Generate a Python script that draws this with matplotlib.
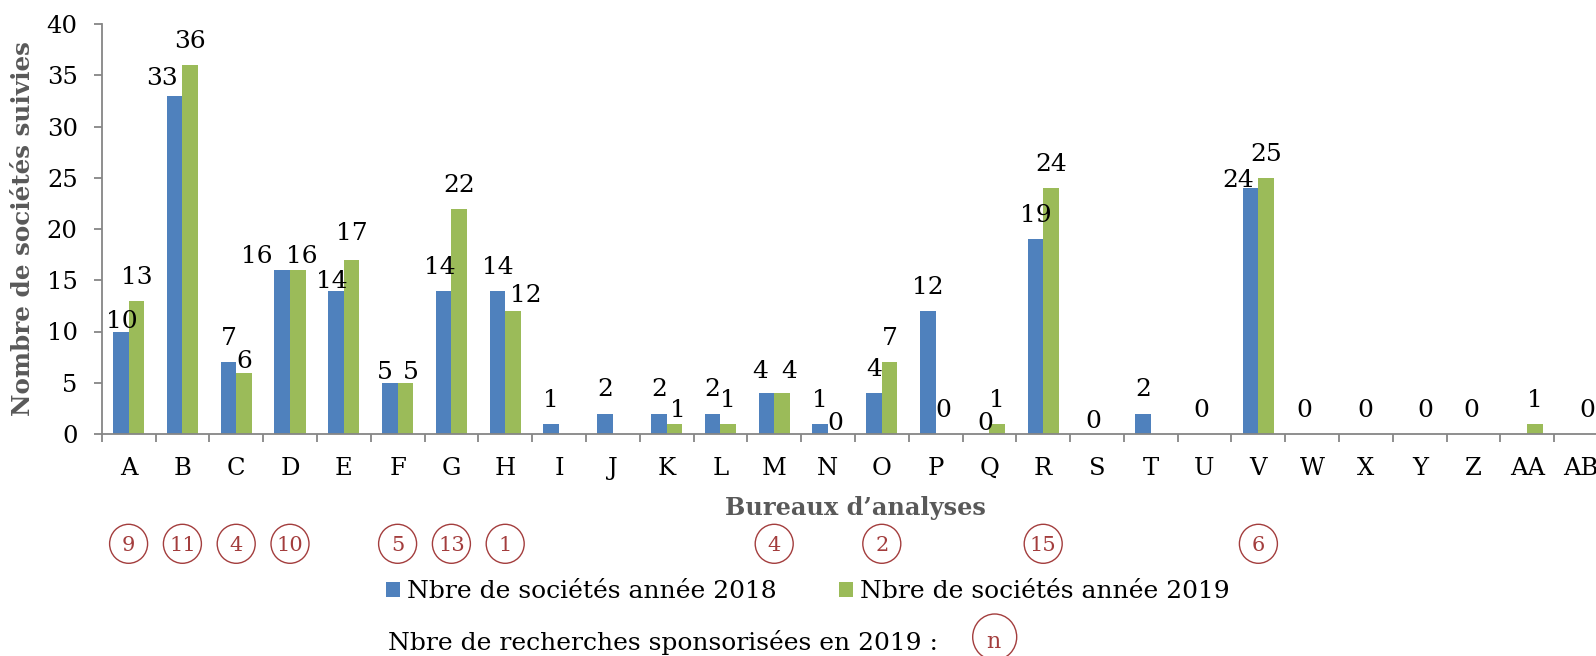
import numpy as np
import matplotlib.pyplot as plt
from matplotlib.patches import Ellipse
from matplotlib.transforms import blended_transform_factory

plt.rcParams['font.family'] = 'DejaVu Serif'

categories = ['A', 'B', 'C', 'D', 'E', 'F', 'G', 'H', 'I', 'J', 'K', 'L', 'M', 'N',
              'O', 'P', 'Q', 'R', 'S', 'T', 'U', 'V', 'W', 'X', 'Y', 'Z', 'AA', 'AB']
societes_2018 = [10, 33, 7, 16, 14, 5, 14, 14, 1, 2, 2, 2, 4, 1,
                 4, 12, 0, 19, 0, 2, 0, 24, 0, 0, 0, 0, None, 0]
societes_2019 = [13, 36, 6, 16, 17, 5, 22, 12, None, None, 1, 1, 4, 0,
                 7, 0, 1, 24, None, None, None, 25, None, None, None, None, 1, None]
sponsor_cats = ['A', 'B', 'C', 'D', 'F', 'G', 'H', 'M', 'O', 'R', 'V']
sponsor_counts = [9, 11, 4, 10, 5, 13, 1, 4, 2, 15, 6]

BLUE = '#4F81BD'
GREEN = '#9BBB59'
RED = '#A33D3D'
GRAY = '#868686'
TITLE_GRAY = '#595959'

# hand placed labels in the original (dx, gap above bar) in pixels
label_nudge = {
    ('A', 0): (1, 3), ('B', 0): (-13, 11), ('C', 1): (0, 5),
    ('D', 0): (-25, 7), ('D', 1): (4, 7), ('E', 0): (-4, 2), ('E', 1): (0, 20),
    ('F', 0): (-5, 4), ('F', 1): (5, 4), ('G', 0): (-4, 16),
    ('H', 1): (13, 9), ('K', 1): (4, 7), ('M', 0): (-6, 15), ('M', 1): (7, 15),
    ('N', 1): (0, 4), ('Q', 0): (4, 4), ('S', 0): (4, 6), ('U', 0): (4, 17),
    ('V', 0): (-12, 1), ('X', 0): (7, 17), ('Y', 0): (13, 17), ('Z', 0): (5, 17),
    ('AB', 0): (14, 17),
}

W, H = 1596, 656
fig = plt.figure(figsize=(W / 100, H / 100), dpi=100)
ax = fig.add_axes([101.7 / W, 1 - 434 / H, 1506.4 / W, 410 / H])

x = np.arange(len(categories))
bw = 0.289
v18 = np.array([np.nan if v is None else v for v in societes_2018], float)
v19 = np.array([np.nan if v is None else v for v in societes_2019], float)
b18 = ax.bar(x - bw / 2, v18, bw, color=BLUE, linewidth=0)
b19 = ax.bar(x + bw / 2, v19, bw, color=GREEN, linewidth=0)

for s, (vals, off) in enumerate([(societes_2018, -bw / 2), (societes_2019, bw / 2)]):
    for i, v in enumerate(vals):
        if v is None:
            continue
        dx, gap = label_nudge.get((categories[i], s), (0, 17))
        ax.annotate(str(v), (x[i] + off, v), xytext=(dx, gap), textcoords='offset pixels',
                    ha='center', va='baseline', fontsize=18, annotation_clip=False)

ax.set_xlim(-0.5, len(categories) - 0.5)
ax.set_ylim(0, 40)
for side in ['top', 'right']:
    ax.spines[side].set_visible(False)
for side in ['left', 'bottom']:
    ax.spines[side].set_color(GRAY)
    ax.spines[side].set_linewidth(1.3)

ax.set_xticks(x, categories)
ax.set_xticks(np.arange(-0.5, len(categories)), minor=True)
ax.tick_params(axis='x', which='minor', length=5.5, width=1.3, color=GRAY)
ax.tick_params(axis='x', which='major', length=0, labelsize=17.5)
for t in ax.xaxis.get_major_ticks():
    t.set_pad(16.5)
ax.set_yticks(range(0, 41, 5))
ax.tick_params(axis='y', length=5.75, width=1.3, color=GRAY, pad=11.5, labelsize=17.5)

fig.text(23.3 / W, 1 - 228.5 / H, 'Nombre de sociétés suivies', rotation=90,
         ha='center', va='center', fontsize=17.7, fontweight='bold', color=TITLE_GRAY)
fig.text(855 / W, 1 - 515 / H, 'Bureaux d’analyses', ha='center', va='baseline',
         fontsize=17.3, fontweight='bold', color=TITLE_GRAY)

# circled counts of sponsored research under the categories
trans = blended_transform_factory(ax.transData, fig.transFigure)
cy = 1 - 543.8 / H
for c, n in zip(sponsor_cats, sponsor_counts):
    i = categories.index(c)
    ax.add_artist(Ellipse((i, cy), 38 / 53.8, 39 / H, transform=trans, fill=False,
                          edgecolor=RED, linewidth=1, clip_on=False))
    ax.text(i, cy, str(n), transform=trans, ha='center', va='center_baseline',
            color=RED, fontsize=15, clip_on=False)

fig.legend([b18, b19], ['Nbre de sociétés année 2018', 'Nbre de sociétés année 2019'],
           loc='center left', bbox_to_anchor=(386 / W, 1 - 592 / H), ncol=2, frameon=False,
           fontsize=18, borderpad=0, borderaxespad=0, handlelength=0.56, handleheight=0.56,
           handletextpad=0.27, columnspacing=2.5)

fig.text(387.8 / W, 1 - 650 / H, 'Nbre de recherches sponsorisées en 2019 :',
         fontsize=18, va='baseline')
fig.add_artist(Ellipse((994.7 / W, 1 - 637 / H), 44 / W, 46 / H, transform=fig.transFigure,
                       fill=False, edgecolor=RED, linewidth=1))
fig.text(993 / W, 1 - 639 / H, 'n', ha='center', va='center_baseline', color=RED, fontsize=16)

fig.savefig('out.png', dpi=100)
